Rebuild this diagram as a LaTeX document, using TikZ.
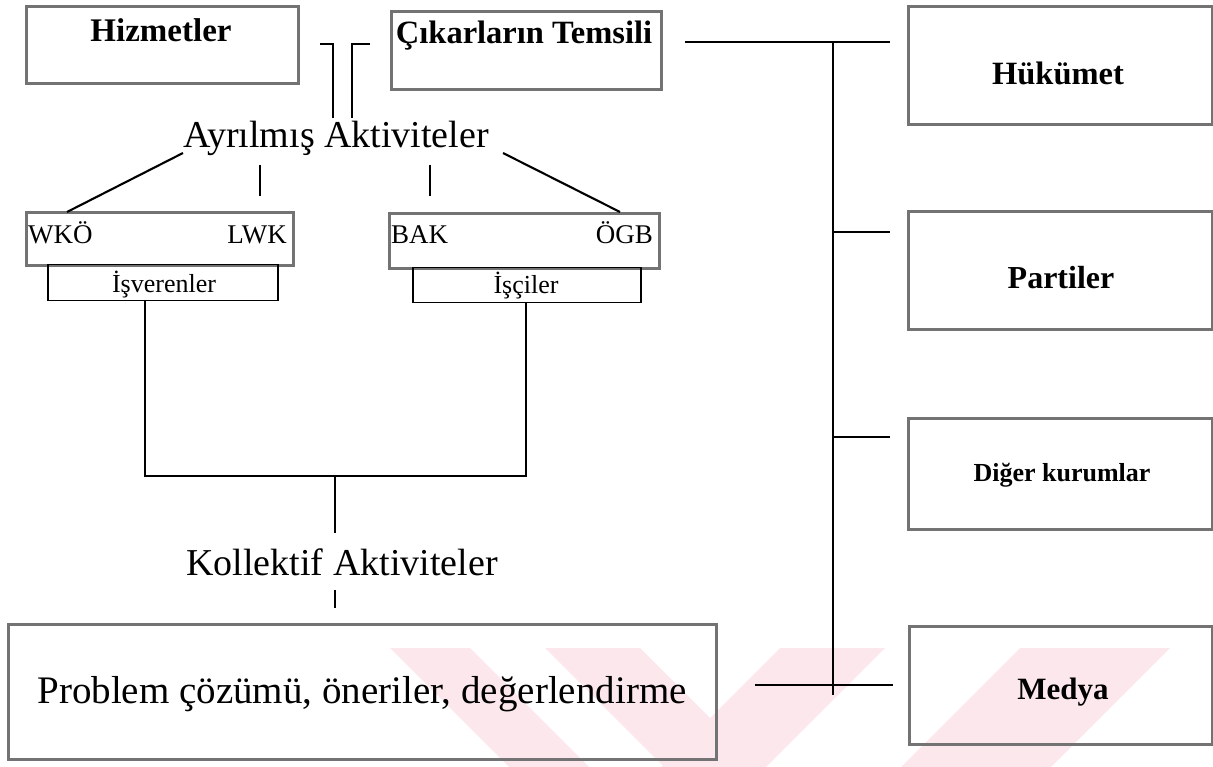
\documentclass[tikz,border=0pt]{standalone}
\usepackage{fontspec}
\setmainfont{Liberation Serif}
\definecolor{wmpink}{RGB}{252,232,236}
\begin{document}
\begin{tikzpicture}[x=1pt,y=-1pt,
  gbox/.style={draw=black!55, line width=2.8pt, inner sep=0pt, anchor=north west},
  tbox/.style={draw=black, line width=1.5pt, inner sep=0pt, anchor=north west},
  conn/.style={line width=2.1pt, black},
  wm/.style={fill=wmpink, draw=none},
  bl/.style={font=\fontsize{#1}{#1}\selectfont\bfseries, inner sep=0pt},
  rl/.style={font=\fontsize{#1}{#1}\selectfont, inner sep=0pt}]
\useasboundingbox (0,0) rectangle (1213,767);
% watermark
\fill[wm] (390,648) -- (470,648) -- (589,767) -- (509,767) -- cycle;
\fill[wm] (545,648) -- (640,648) -- (759,767) -- (664,767) -- cycle;
\fill[wm] (780,648) -- (885,648) -- (766,767) -- (661,767) -- cycle;
\fill[wm] (1020,648) -- (1170,648) -- (1051,767) -- (901,767) -- cycle;
% boxes
\node[gbox, minimum width=272pt, minimum height=77pt] (hizb) at (25,5) {};
\node[bl=33] (hiz) at (161,30) {Hizmetler};
\node[gbox, minimum width=270pt, minimum height=78pt] (cikb) at (390,10) {};
\node[bl=32.5] (cik) at (524,36) {Çıkarların Temsili};
\node[gbox, minimum width=304pt, minimum height=118pt] (hukb) at (907,5) {};
\node[bl=32.5] (huk) at (1058,73) {Hükümet};
\node[gbox, minimum width=304pt, minimum height=118pt] (parb) at (907,210) {};
\node[bl=32] (par) at (1061,278) {Partiler};
\node[gbox, minimum width=304pt, minimum height=111pt] (digb) at (907,417) {};
\node[bl=26] (dig) at (1062,475) {Diğer kurumlar};
\node[gbox, minimum width=303pt, minimum height=118pt] (medb) at (908,625) {};
\node[bl=31] (med) at (1063,692) {Medya};
\node[gbox, minimum width=267pt, minimum height=53pt] (wkob) at (25,211) {};
\node[rl=27, anchor=base west] (wko) at (28,244) {WKÖ};
\node[rl=27, anchor=base east] (lwk) at (287,244) {LWK};
\node[gbox, minimum width=270pt, minimum height=55pt] (bakb) at (388,212) {};
\node[rl=27, anchor=base west] (bak) at (391,244) {BAK};
\node[rl=27, anchor=base east] (ogb) at (653,244) {ÖGB};
\node[tbox, minimum width=230pt, minimum height=36pt] (isvb) at (47,264) {};
\node[rl=26, anchor=base] (isv) at (164,293) {İşverenler};
\node[tbox, minimum width=228pt, minimum height=35pt] (iscb) at (412,267) {};
\node[rl=26, anchor=base] (isc) at (526,294) {İşçiler};
\node[rl=38, anchor=base] (ayr) at (336,148) {Ayrılmış Aktiviteler};
\node[rl=38, anchor=base] (kol) at (342,575) {Kollektif Aktiviteler};
\node[gbox, minimum width=708pt, minimum height=135pt] (prob) at (7,623) {};
\node[rl=39, anchor=base] (pro) at (362,703) {Problem çözümü, öneriler, değerlendirme};
% connectors
\coordinate (h1) at (320,44); \coordinate (h2) at (333,118);
\coordinate (c1) at (370,44); \coordinate (c2) at (352,118);
\draw[conn] (h1) -| (h2);
\draw[conn] (c1) -| (c2);
\coordinate (d1) at (183,153); \coordinate (d2) at (67,212);
\coordinate (d3) at (503,153); \coordinate (d4) at (620,212);
\draw[conn] (d1) -- (d2);
\draw[conn] (d3) -- (d4);
\draw[conn] (260,165) -- (260,196);
\draw[conn] (430,165) -- (430,196);
\coordinate (b1) at (145,300); \coordinate (b2) at (526,302);
\coordinate (bm) at (335,476);
\draw[conn] (b1) -- (145,476) -- (526,476) -- (b2);
\draw[conn] (bm) -- (335,533);
\draw[conn] (335,590) -- (335,608);
\coordinate (r0) at (685,42); \coordinate (r1) at (890,42);
\draw[conn] (r0) -- (r1);
\draw[conn] (833,42) -- (833,695);
\draw[conn] (833,232) -- (890,232);
\draw[conn] (833,437) -- (890,437);
\draw[conn] (755,685) -- (893,685);
\end{tikzpicture}
\end{document}
